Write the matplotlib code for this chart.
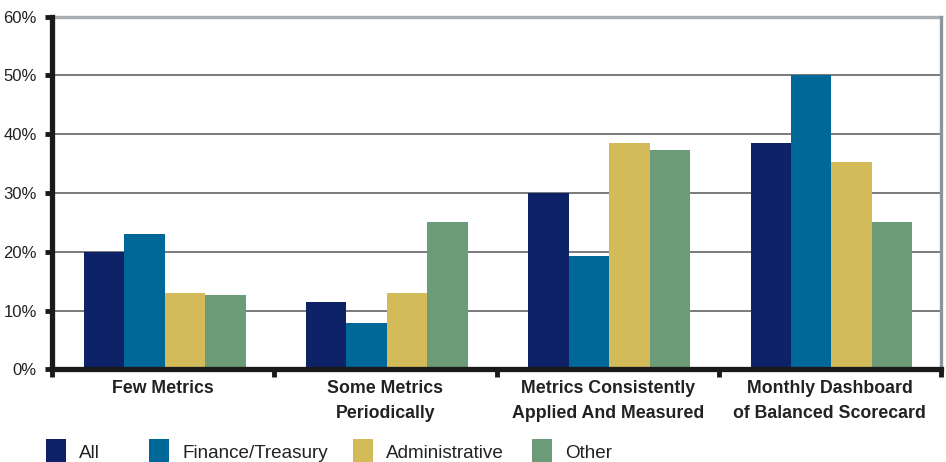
import matplotlib
matplotlib.use("Agg")
import matplotlib.pyplot as plt
from matplotlib.patches import Rectangle
import numpy as np

categories = ["Few Metrics", "Some Metrics\nPeriodically",
              "Metrics Consistently\nApplied And Measured",
              "Monthly Dashboard\nof Balanced Scorecard"]
series_names = ["All", "Finance/Treasury", "Administrative", "Other"]
all_vals = [20.0, 11.5, 30.0, 38.5]
finance_vals = [23.0, 7.8, 19.2, 50.0]
admin_vals = [12.9, 12.9, 38.5, 35.3]
other_vals = [12.6, 25.0, 37.4, 25.0]
y_ticks = [0, 10, 20, 30, 40, 50, 60]
y_tick_labels = ["0%", "10%", "20%", "30%", "40%", "50%", "60%"]

colors = ["#0e2268", "#006899", "#d4bb5a", "#6b9b77"]
values = [all_vals, finance_vals, admin_vals, other_vals]

plt.rcParams["font.family"] = ["Liberation Sans", "DejaVu Sans"]

W, H = 946, 462
fig = plt.figure(figsize=(W / 100, H / 100), dpi=100)
ax = fig.add_axes([52 / W, 1 - 369.3 / H, 889 / W, 352.6 / H])

x = np.arange(len(categories))
bw = 0.182
for i, (vals, c) in enumerate(zip(values, colors)):
    ax.bar(x + (i - 1.5) * bw + 0.007, vals, width=bw, color=c, linewidth=0, zorder=3)

ax.set_xlim(-0.5, len(categories) - 0.5)
ax.set_ylim(0, 60)

# horizontal grid lines
for t in y_ticks[1:-1]:
    ax.axhline(t, color="#6f6f6f", lw=1.3, zorder=1)
ax.axhline(60, color="#a8b0b5", lw=2.4, zorder=1, clip_on=False)

ax.set_yticks(y_ticks)
ax.set_yticklabels(y_tick_labels, fontsize=12, color="#222222")
ax.tick_params(axis="y", direction="out", length=5, width=3.5, color="#1a1a1a", pad=6)

ax.set_xticks(x)
ax.set_xticklabels(categories, fontsize=12.8, fontweight="bold", color="#222222",
                   linespacing=1.6)
ax.tick_params(axis="x", which="major", length=0, pad=8)
ax.set_xticks(np.arange(-0.5, len(categories)), minor=True)
ax.tick_params(axis="x", which="minor", direction="out", length=6, width=3.5, color="#1a1a1a")

for side in ["left", "bottom"]:
    ax.spines[side].set_linewidth(3.8)
    ax.spines[side].set_color("#1a1a1a")
    ax.spines[side].set_zorder(4)
ax.spines["top"].set_visible(False)
ax.spines["right"].set_color("#8c959b")
ax.spines["right"].set_linewidth(2.4)

# legend row along the bottom edge
legend_x = [46, 149, 353, 532]
for lx, name, c in zip(legend_x, series_names, colors):
    fig.add_artist(Rectangle((lx / W, -6 / H), 20 / W, 29 / H,
                             transform=fig.transFigure, facecolor=c, edgecolor="none"))
    fig.text((lx + 33) / W, 4.5 / H, name, fontsize=13.6, color="#222222",
             ha="left", va="baseline")

fig.savefig("out.png", dpi=100)
